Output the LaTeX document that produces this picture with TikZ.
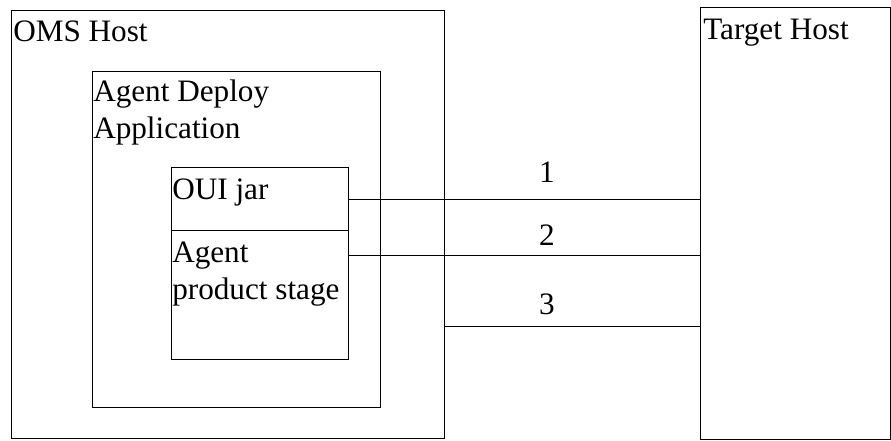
\documentclass[tikz,border=0pt]{standalone}
\usepackage{fontspec}
\setmainfont{Liberation Serif}
\begin{document}
\begin{tikzpicture}[x=0.75pt,y=-0.75pt,
  box/.style={draw=black,line width=0.9pt,inner sep=0pt,anchor=north west},
  txt/.style={inner sep=0pt,anchor=base west,align=left,font=\fontsize{23.4}{27.5}\selectfont},
  num/.style={inner sep=0pt,anchor=base,font=\fontsize{23.4}{27.5}\selectfont},
  conn/.style={draw=black,line width=0.9pt}]
\useasboundingbox[fill=white] (0,0) rectangle (891,440);
% boxes
\node[box,minimum width=433*0.75pt,minimum height=428*0.75pt] (oms) at (11,10) {};
\node[box,minimum width=288*0.75pt,minimum height=336*0.75pt] (ada) at (92,71) {};
\node[box,minimum width=177*0.75pt,minimum height=63*0.75pt] (oui) at (171,167) {};
\node[box,minimum width=177*0.75pt,minimum height=129*0.75pt] (stage) at (171,230) {};
\node[box,minimum width=190*0.75pt,minimum height=432*0.75pt] (target) at (700,7) {};
% texts (base anchor of a two-line text is its last line)
\node[txt] (omst) at (13,41) {OMS Host};
\node[txt] (adat) at (93,138) {Agent Deploy\\Application};
\node[txt] (ouit) at (172,199) {OUI jar};
\node[txt] (staget) at (172,299) {Agent\\product stage};
\node[txt] (targett) at (703,39) {Target Host};
% connectors
\coordinate (c1) at (348,199.5);
\coordinate (c2) at (348,255.5);
\coordinate (c3) at (444,326.5);
\draw[conn] (c1) -- node[num,pos=0.565,yshift=13pt] (l1) {1} (c1 -| target.west);
\draw[conn] (c2) -- node[num,pos=0.565,yshift=7.8pt] (l2) {2} (c2 -| target.west);
\draw[conn] (c3) -- node[num,pos=0.402,yshift=8.7pt] (l3) {3} (c3 -| target.west);
\end{tikzpicture}
\end{document}
